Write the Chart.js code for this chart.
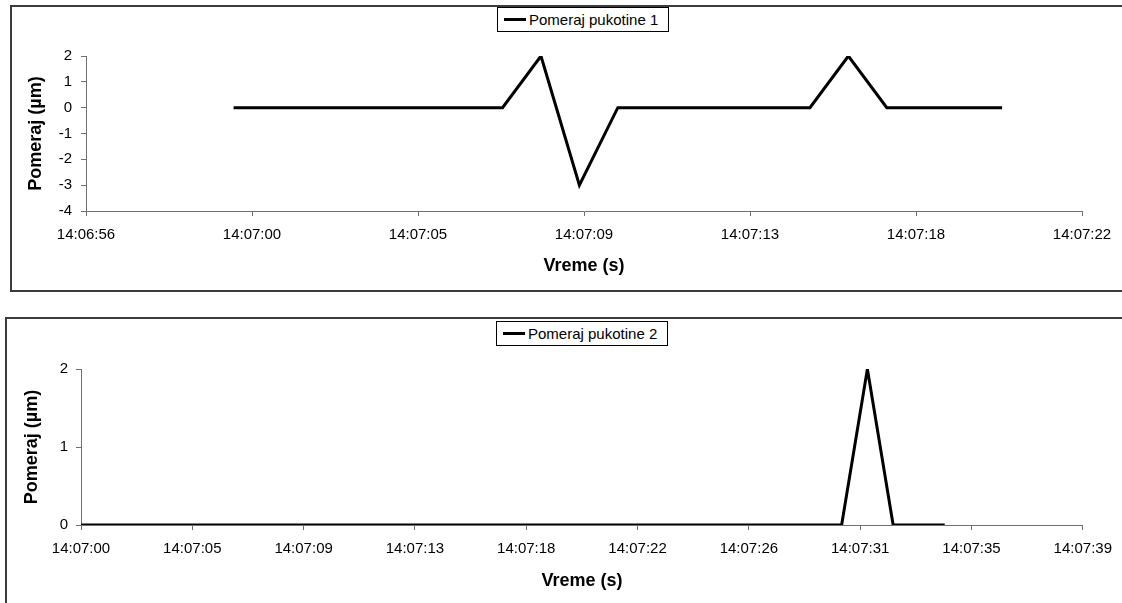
<!DOCTYPE html>
<html lang="sr">

<head>
    <meta charset="UTF-8">
    <title>Pomeraj pukotine</title>
    <style>
        body { margin: 0; background: #fff; overflow: hidden; font-family: "Liberation Sans", Arial, sans-serif; }
        .frame { position: absolute; border: 2px solid #3c3c3c; }
        .legend { position: absolute; box-sizing: border-box; width: 172px; height: 25px; border: 1px solid #000;
                  background: #fff; font-size: 15px; line-height: 23px; padding-left: 31px; white-space: nowrap; color: #000; }
        .legend span { position: absolute; left: 6px; top: 10px; width: 22px; height: 3px; background: #000; }
        canvas { position: absolute; left: 0; }
    </style>
</head>

<body>
    <div class="frame" style="left:10px; top:5px; width:1130px; height:283px;"></div>
    <div class="frame" style="left:5px; top:317px; width:1130px; height:300px;"></div>

    <canvas id="chart1" width="1122" height="300" style="top:0px;"></canvas>
    <canvas id="chart2" width="1122" height="303" style="top:300px;"></canvas>

    <div class="legend" style="left:497px; top:7px;"><span></span>Pomeraj pukotine 1</div>
    <div class="legend" style="left:496px; top:321px;"><span></span>Pomeraj pukotine 2</div>

    <script src="https://cdn.jsdelivr.net/npm/chart.js"></script>
    <script>
        // pukotina 1
        const times1 = ['14:07:00', '14:07:01', '14:07:02', '14:07:03', '14:07:04', '14:07:05', '14:07:06',
            '14:07:07', '14:07:08', '14:07:09', '14:07:10', '14:07:11', '14:07:12', '14:07:13',
            '14:07:14', '14:07:15', '14:07:16', '14:07:17', '14:07:18', '14:07:19', '14:07:20'];
        const values1 = [0, 0, 0, 0, 0, 0, 0, 0, 2, -3, 0, 0, 0, 0, 0, 0, 2, 0, 0, 0, 0];
        const xTicks1 = ['14:06:56', '14:07:00', '14:07:05', '14:07:09', '14:07:13', '14:07:18', '14:07:22'];

        // pukotina 2
        const times2 = ['14:07:00', '14:07:01', '14:07:02', '14:07:03', '14:07:04', '14:07:05', '14:07:06',
            '14:07:07', '14:07:08', '14:07:09', '14:07:10', '14:07:11', '14:07:12', '14:07:13',
            '14:07:14', '14:07:15', '14:07:16', '14:07:17', '14:07:18', '14:07:19', '14:07:20',
            '14:07:21', '14:07:22', '14:07:23', '14:07:24', '14:07:25', '14:07:26', '14:07:27',
            '14:07:28', '14:07:29', '14:07:30', '14:07:31', '14:07:32', '14:07:33', '14:07:34'];
        const values2 = [0, 0, 0, 0, 0, 0, 0, 0, 0, 0, 0, 0, 0, 0, 0, 0, 0, 0, 0, 0, 0,
            0, 0, 0, 0, 0, 0, 0, 0, 0, 0, 2, 0, 0, 0];
        const xTicks2 = ['14:07:00', '14:07:05', '14:07:09', '14:07:13', '14:07:18', '14:07:22',
            '14:07:26', '14:07:31', '14:07:35', '14:07:39'];

        const step = 4.32; // excel korak ose: 0.00005 dana
        const axisColor = '#707070';

        function toSec(t) {
            let p = t.split(':');
            return Number(p[0]) * 3600 + Number(p[1]) * 60 + Number(p[2]);
        }

        function makeChart(id, times, values, xTicks, yMin, yMax, lay) {
            let x0 = Math.round(toSec(xTicks[0]) / step) * step;
            let pts = [];
            for (let i = 0; i < times.length; i++) {
                pts.push({ x: toSec(times[i]), y: values[i] });
            }

            return new Chart(document.getElementById(id), {
                type: 'line',
                data: {
                    datasets: [{
                        data: pts,
                        borderColor: '#000',
                        borderWidth: 3,
                        pointRadius: 0,
                        tension: 0,
                        fill: false
                    }]
                },
                options: {
                    responsive: false,
                    animation: false,
                    layout: { padding: { top: lay.top, right: lay.right, bottom: 0, left: 0 } },
                    plugins: {
                        legend: { display: false },
                        tooltip: { enabled: false }
                    },
                    scales: {
                        x: {
                            type: 'linear',
                            min: x0,
                            max: x0 + step * (xTicks.length - 1),
                            afterBuildTicks: function (s) {
                                s.ticks = xTicks.map((l, i) => ({ value: x0 + i * step }));
                            },
                            ticks: {
                                callback: (v, i) => xTicks[i],
                                autoSkip: false,
                                maxRotation: 0,
                                padding: 10,
                                color: '#000',
                                font: { family: 'Liberation Sans', size: 15 }
                            },
                            grid: { drawOnChartArea: false, tickLength: 5, color: axisColor },
                            border: { color: axisColor },
                            title: {
                                display: true,
                                text: 'Vreme (s)',
                                color: '#000',
                                font: { family: 'Liberation Sans', size: 18, weight: 'bold' },
                                padding: { top: 0, bottom: lay.xTitle }
                            },
                            afterFit: function (s) { s.height = lay.xHeight; }
                        },
                        y: {
                            min: yMin,
                            max: yMax,
                            ticks: {
                                stepSize: 1,
                                padding: lay.yPad,
                                color: '#000',
                                font: { family: 'Liberation Sans', size: 15 }
                            },
                            grid: { drawOnChartArea: false, tickLength: 5, color: axisColor },
                            border: { color: axisColor },
                            title: {
                                display: true,
                                text: 'Pomeraj (µm)',
                                color: '#000',
                                font: { family: 'Liberation Sans', size: 18, weight: 'bold' },
                                padding: { top: lay.yTitle, bottom: 0 }
                            },
                            afterFit: function (s) { s.width = lay.yWidth; }
                        }
                    }
                }
            });
        }

        makeChart('chart1', times1, values1, xTicks1, -4, 2,
            { top: 56, right: 40, xHeight: 89, xTitle: 23, yWidth: 86, yTitle: 25, yPad: 9 });
        makeChart('chart2', times2, values2, xTicks2, 0, 2,
            { top: 69, right: 36, xHeight: 78, xTitle: 11, yWidth: 81, yTitle: 21, yPad: 8 });
    </script>
</body>

</html>
